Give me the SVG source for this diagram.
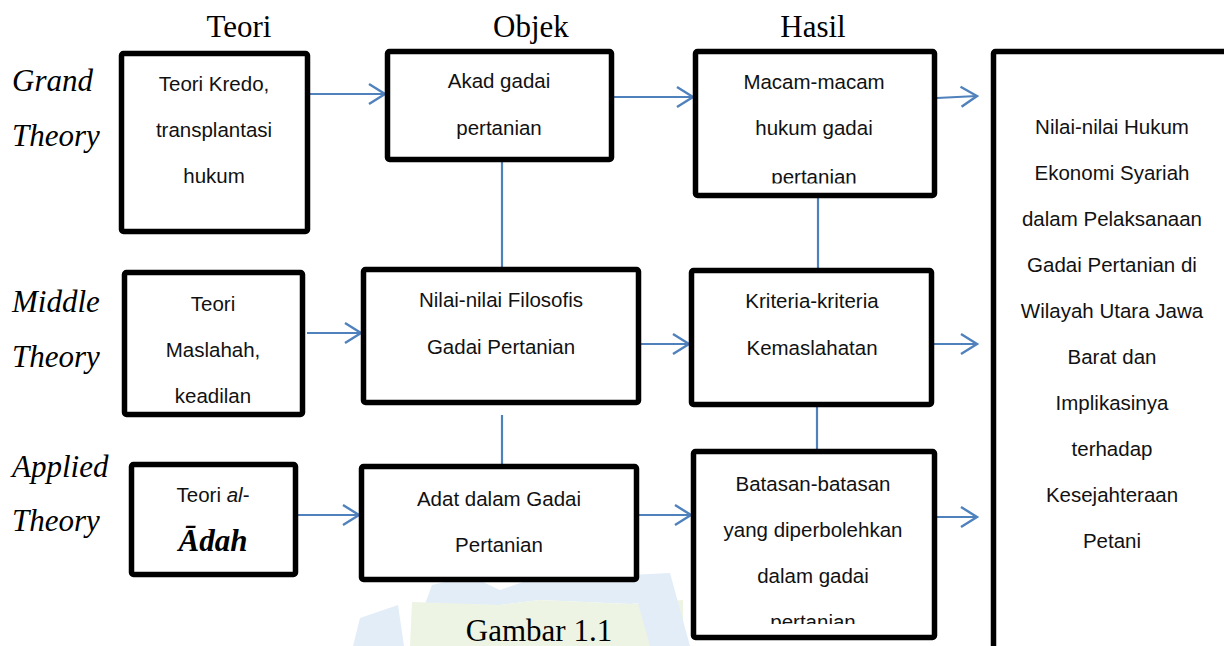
<svg xmlns="http://www.w3.org/2000/svg" width="1224" height="646" viewBox="0 0 1224 646">
<style>
.box{fill:#fff;stroke:#000;stroke-width:5.5;stroke-linejoin:round}
.t{font-family:"Liberation Sans",Arial,sans-serif;font-size:20.5px;fill:#111;text-anchor:middle}
.h{font-family:"Liberation Serif","Times New Roman",serif;font-size:31px;fill:#000;text-anchor:middle}
.lbl{font-family:"Liberation Serif","Times New Roman",serif;font-size:31px;font-style:italic;fill:#000}
.c{stroke:#4F81BD;stroke-width:2.2;fill:none}
.wb{fill:#e3edf7}
.wg{fill:#edf4e4}
</style>
<defs>
<marker id="ah" markerWidth="20" markerHeight="24" refX="17" refY="12" orient="auto" markerUnits="userSpaceOnUse">
<path d="M1,2 L17,12 L1,22" fill="none" stroke="#4F81BD" stroke-width="2.4"/>
</marker>
<clipPath id="clipMacam"><rect x="695" y="51" width="240" height="132.5"/></clipPath>
<clipPath id="clipBatasan"><rect x="693" y="451" width="242" height="173"/></clipPath>
</defs>
<rect width="1224" height="646" fill="#fff"/>
<g id="watermark">
<polygon class="wb" points="353,646 360,618 398,605 404,646"/>
<polygon class="wb" points="425,604 432,585 470,576 500,590 540,576 600,573 640,576 668,600 630,604 540,600 500,605"/>
<polygon class="wg" points="410,646 412,602 500,605 540,600 630,604 683,600 683,646"/>
<polygon class="wb" points="630,575 670,573 690,646 650,646"/>
</g>
<g id="headers">
<text class="h" x="239" y="37">Teori</text>
<text class="h" x="531" y="37">Objek</text>
<text class="h" x="813" y="37">Hasil</text>
<text class="lbl" x="12" y="91">Grand</text>
<text class="lbl" x="12" y="146">Theory</text>
<text class="lbl" x="12" y="312">Middle</text>
<text class="lbl" x="12" y="367">Theory</text>
<text class="lbl" x="12" y="477">Applied</text>
<text class="lbl" x="12" y="531">Theory</text>
<text class="h" x="539" y="641">Gambar 1.1</text>
</g>
<g id="connectors">
<line class="c" x1="310" y1="94" x2="385" y2="94" marker-end="url(#ah)"/>
<line class="c" x1="614" y1="97" x2="693" y2="97" marker-end="url(#ah)"/>
<line class="c" x1="937" y1="98" x2="977" y2="96" marker-end="url(#ah)"/>
<line class="c" x1="307" y1="333" x2="361" y2="333" marker-end="url(#ah)"/>
<line class="c" x1="641" y1="344" x2="689" y2="344" marker-end="url(#ah)"/>
<line class="c" x1="932" y1="344" x2="977" y2="344" marker-end="url(#ah)"/>
<line class="c" x1="297" y1="515" x2="359" y2="515" marker-end="url(#ah)"/>
<line class="c" x1="639" y1="515" x2="691" y2="515" marker-end="url(#ah)"/>
<line class="c" x1="932" y1="517" x2="977" y2="517" marker-end="url(#ah)"/>
<line class="c" x1="502" y1="160" x2="502" y2="281"/>
<line class="c" x1="502" y1="415" x2="502" y2="466"/>
<line class="c" x1="818" y1="196" x2="818" y2="276"/>
<line class="c" x1="817" y1="405" x2="817" y2="452"/>
</g>
<g id="n-kredo">
<rect class="box" x="121.5" y="53.5" width="186" height="178" rx="2"/>
<text class="t" x="214" y="91">Teori Kredo,</text>
<text class="t" x="214" y="137">transplantasi</text>
<text class="t" x="214" y="183">hukum</text>
</g>
<g id="n-akad">
<rect class="box" x="387.5" y="51.5" width="224" height="108" rx="2"/>
<text class="t" x="499" y="88">Akad gadai</text>
<text class="t" x="499" y="135">pertanian</text>
</g>
<g id="n-macam">
<rect class="box" x="695.5" y="51.5" width="239" height="144" rx="2"/>
<text class="t" x="814" y="89">Macam-macam</text>
<text class="t" x="814" y="135">hukum gadai</text>
<text class="t" x="814" y="184" clip-path="url(#clipMacam)" fill="#333">pertanian</text>
</g>
<g id="n-hasil-akhir">
<rect class="box" x="993.5" y="51.5" width="260" height="640" rx="2"/>
<text class="t" x="1112" y="134">Nilai-nilai Hukum</text>
<text class="t" x="1112" y="180">Ekonomi Syariah</text>
<text class="t" x="1112" y="226">dalam Pelaksanaan</text>
<text class="t" x="1112" y="272">Gadai Pertanian di</text>
<text class="t" x="1112" y="318">Wilayah Utara Jawa</text>
<text class="t" x="1112" y="364">Barat dan</text>
<text class="t" x="1112" y="410">Implikasinya</text>
<text class="t" x="1112" y="456">terhadap</text>
<text class="t" x="1112" y="502">Kesejahteraan</text>
<text class="t" x="1112" y="548">Petani</text>
</g>
<g id="n-maslahah">
<rect class="box" x="124.5" y="272.5" width="178" height="142" rx="2"/>
<text class="t" x="213" y="311">Teori</text>
<text class="t" x="213" y="357">Maslahah,</text>
<text class="t" x="213" y="403">keadilan</text>
</g>
<g id="n-filosofis">
<rect class="box" x="363.5" y="269.5" width="275" height="133" rx="2"/>
<text class="t" x="501" y="307">Nilai-nilai Filosofis</text>
<text class="t" x="501" y="354">Gadai Pertanian</text>
</g>
<g id="n-kriteria">
<rect class="box" x="691.5" y="270.5" width="240" height="134" rx="2"/>
<text class="t" x="812" y="308">Kriteria-kriteria</text>
<text class="t" x="812" y="355">Kemaslahatan</text>
</g>
<g id="n-aladah">
<rect class="box" x="131.5" y="464.5" width="164" height="110" rx="2"/>
<text class="t" x="213" y="502">Teori <tspan font-style="italic">al</tspan>-</text>
<text x="213" y="551" font-family="'Liberation Serif','Times New Roman',serif" font-size="31" font-weight="bold" font-style="italic" text-anchor="middle" fill="#000">Ādah</text>
</g>
<g id="n-adat">
<rect class="box" x="361.5" y="466.5" width="275" height="113" rx="2"/>
<text class="t" x="499" y="506">Adat dalam Gadai</text>
<text class="t" x="499" y="552">Pertanian</text>
</g>
<g id="n-batasan">
<rect class="box" x="693.5" y="451.5" width="241" height="186" rx="2"/>
<text class="t" x="813" y="491">Batasan-batasan</text>
<text class="t" x="813" y="537">yang diperbolehkan</text>
<text class="t" x="813" y="583">dalam gadai</text>
<text class="t" x="813" y="629" clip-path="url(#clipBatasan)">pertanian</text>
</g>
</svg>
